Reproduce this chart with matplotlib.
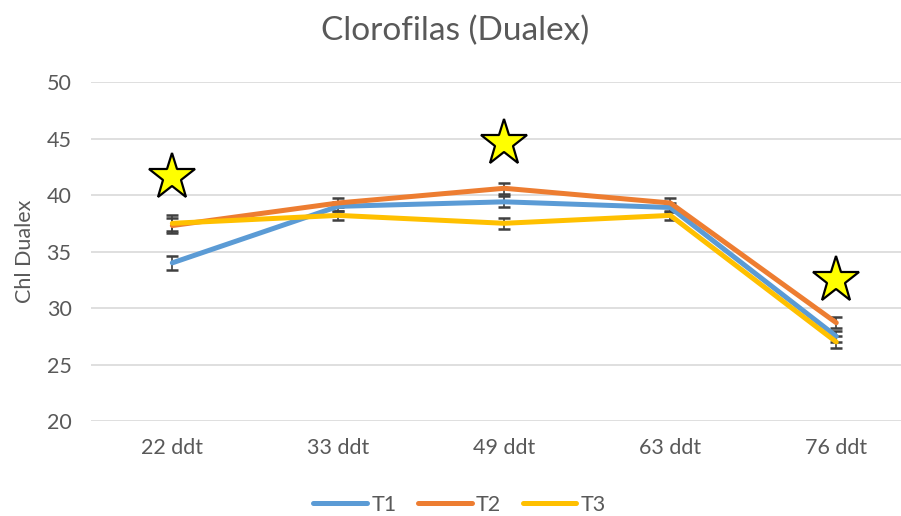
import numpy as np
import matplotlib
matplotlib.use("Agg")
import matplotlib.pyplot as plt

categories = ["22 ddt", "33 ddt", "49 ddt", "63 ddt", "76 ddt"]
t1 = [34.0, 39.0, 39.4, 38.9, 27.5]
t2 = [37.3, 39.3, 40.6, 39.3, 28.7]
t3 = [37.5, 38.2, 37.5, 38.2, 27.0]
t1_err = [0.6, 0.4, 0.5, 0.4, 0.5]
t2_err = [0.7, 0.4, 0.5, 0.4, 0.5]
t3_err = [0.7, 0.4, 0.5, 0.4, 0.5]
star_x = [0, 2, 4]
star_y = [41.6, 44.6, 32.5]

plt.rcParams["font.family"] = ["Lato", "DejaVu Sans"]
grey = "#595959"

fig = plt.figure(figsize=(9.01, 5.16), dpi=100)
ax = fig.add_axes([0.101, 0.184, 0.899, 0.657])
x = np.arange(len(categories))

series = [("T1", t1, t1_err, "#5B9BD5"),
          ("T2", t2, t2_err, "#ED7D31"),
          ("T3", t3, t3_err, "#FFC000")]
for i, (name, vals, err, col) in enumerate(series):
    ax.errorbar(x, vals, yerr=err, fmt="none", ecolor="#404040", elinewidth=1.2,
                capsize=4, capthick=1.8, zorder=2)
    ax.plot(x, vals, color=col, lw=3.6, label=name, zorder=3 + i,
            solid_capstyle="round")

ax.plot(star_x, star_y, ls="none", marker="*", markersize=35, markerfacecolor="#FFFF00",
        markeredgecolor="black", markeredgewidth=1.6, zorder=10)

ax.set_xlim(-0.49, 4.39)
ax.set_ylim(20, 50)
ax.set_yticks(range(20, 51, 5))
ax.set_xticks(x)
ax.set_xticklabels(categories)
ax.grid(axis="y", color="#D9D9D9", lw=1.2)
ax.set_axisbelow(True)
for s in ax.spines.values():
    s.set_visible(False)
ax.tick_params(length=0, labelsize=15.5, colors=grey, pad=12)
ax.tick_params(axis="y", pad=14)
ax.set_ylabel("Chl Dualex", fontsize=15.5, color=grey, labelpad=8)

fig.suptitle("Clorofilas (Dualex)", fontsize=24, color=grey, x=0.505, y=0.97)
fig.legend(loc="lower center", bbox_to_anchor=(0.51, -0.035), ncol=3, frameon=False,
           fontsize=15.5, labelcolor=grey, handlelength=2.5, handletextpad=0.2,
           columnspacing=1.0)

fig.savefig("out.png", dpi=100)
